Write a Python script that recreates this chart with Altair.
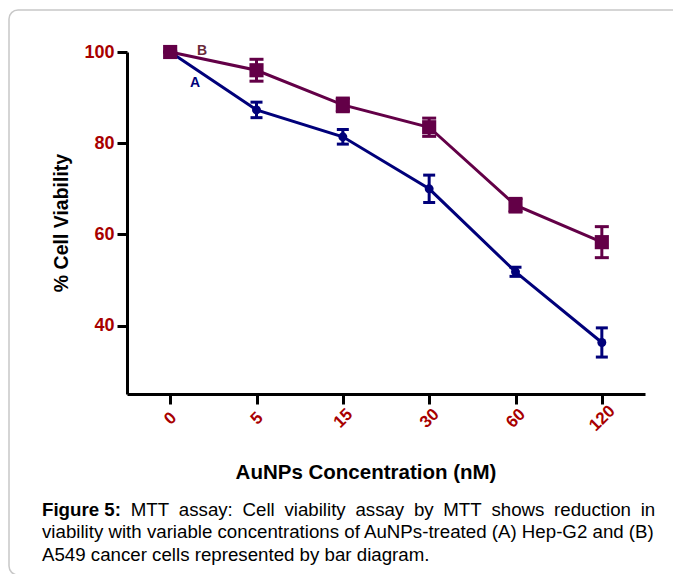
import altair as alt
import pandas as pd

# ---- data ----
conc = ["0", "5", "15", "30", "60", "120"]
a_mean = [100, 87.3, 81.4, 70.0, 51.8, 36.3]
a_err = [0, 1.7, 1.6, 3.0, 1.0, 3.2]
b_mean = [100, 96.0, 88.4, 83.5, 66.4, 58.3]
b_err = [0, 2.4, 1.5, 2.0, 1.5, 3.4]
y_ticks = [40, 60, 80, 100]

x_title = "AuNPs Concentration (nM)"
y_title = "% Cell Viability"
cap_line1 = ["MTT", "assay:", "Cell", "viability", "assay", "by", "MTT", "shows", "reduction", "in"]
cap_line2 = "viability with variable concentrations of AuNPs-treated (A) Hep-G2 and (B)"
cap_line3 = "A549 cancer cells represented by bar diagram."

# ---- layout (pixels, relative to plot origin) ----
W, H = 518, 342
FONT = "Liberation Sans"
BLUE = "#00007a"
PURPLE = "#630047"
RED = "#a80000"
CAP = 18.7

rows = []
for c, m, e in zip(conc, a_mean, a_err):
    rows.append({"conc": c, "series": "A", "mean": m, "lo": m - e, "hi": m + e})
for c, m, e in zip(conc, b_mean, b_err):
    rows.append({"conc": c, "series": "B", "mean": m, "lo": m - e, "hi": m + e})
df = pd.DataFrame(rows)
dfa = df[df.series == "A"]
dfb = df[df.series == "B"]

xenc = alt.X("conc:N", sort=conc, scale=alt.Scale(type="point", padding=0.5),
             axis=alt.Axis(title=None, labelAngle=315, labelAlign="center", labelBaseline="middle",
                           labelPadding=14, labelFont=FONT, labelFontSize=17, labelFontWeight="bold",
                           labelColor=RED, domainColor="black", domainWidth=3, tickColor="black",
                           tickWidth=3, tickSize=10, grid=False))
yscale = alt.Scale(domain=[25, 100], nice=False, zero=False)
yaxis = alt.Axis(title=None, values=y_ticks, labelFont=FONT, labelFontSize=18, labelFontWeight="bold",
                 labelColor=RED, labelPadding=3, domainColor="black", domainWidth=3, tickColor="black",
                 tickWidth=3, tickSize=10, grid=False)

frame = alt.Chart(pd.DataFrame({"k": [0]})).mark_rect(
    fill=None, fillOpacity=0, stroke="#c8c8c8", strokeWidth=1.5, cornerRadius=9
).encode(x=alt.value(-118), x2=alt.value(570), y=alt.value(-42), y2=alt.value(523))


def series(d, color, shape, msize, capw):
    ch = alt.Chart(d)
    line = ch.mark_line(color=color, strokeWidth=3).encode(x=xenc, y=alt.Y("mean:Q", scale=yscale, axis=yaxis))
    rule = ch.mark_rule(color=color, strokeWidth=3).encode(x=xenc, y=alt.Y("lo:Q", scale=yscale), y2="hi:Q")
    cap_lo = ch.mark_tick(color=color, thickness=3, size=capw, opacity=1).encode(x=xenc, y=alt.Y("lo:Q", scale=yscale))
    cap_hi = ch.mark_tick(color=color, thickness=3, size=capw, opacity=1).encode(x=xenc, y=alt.Y("hi:Q", scale=yscale))
    pts = ch.mark_point(color=color, filled=True, opacity=1, shape=shape, size=msize).encode(
        x=xenc, y=alt.Y("mean:Q", scale=yscale))
    return [line, rule, cap_lo, cap_hi, pts]


layers = [frame]
layers += series(dfa, BLUE, "circle", 80, 12)
layers += series(dfb, PURPLE, "square", 200, 14)

txt = pd.DataFrame({"k": [0]})


def label(text, x, y, size, color="black", weight="normal", angle=0, align="left", baseline="alphabetic"):
    kw = dict(text=text, font=FONT, fontSize=size, color=color, fontWeight=weight, align=align, baseline=baseline)
    if angle:
        kw["angle"] = angle
    return alt.Chart(txt).mark_text(**kw).encode(x=alt.value(x), y=alt.value(y))


layers.append(label("A", 68, 35, 14, BLUE, "bold", align="center"))
layers.append(label("B", 75, 3, 14, "#6a2a3a", "bold", align="center"))
layers.append(label(y_title, -65, 171, 19.5, "black", "bold", angle=270, align="center", baseline="middle"))
layers.append(label(x_title, 239, 421, 20.5, "black", "bold", align="center", baseline="middle"))

# caption (first line justified word by word)
layers.append(label("Figure 5:", -85, 464, CAP, "black", "bold"))
word_x = [130.7, 178.8, 242.5, 284.4, 355.4, 413.9, 443.3, 491.4, 554.1, 640.7]
for w, xx in zip(cap_line1, word_x):
    layers.append(label(w, xx - 127, 464, CAP))
layers.append(label(cap_line2, -85, 486, CAP))
layers.append(label(cap_line3, -85, 509, CAP))

chart = alt.layer(*layers).properties(
    width=W, height=H,
    autosize=alt.AutoSizeParams(type="none"),
    padding={"left": 119, "top": 44, "right": 28, "bottom": 180},
).configure_view(stroke=None)

chart.save("out.html", embed_options={"renderer": "svg", "actions": False})
